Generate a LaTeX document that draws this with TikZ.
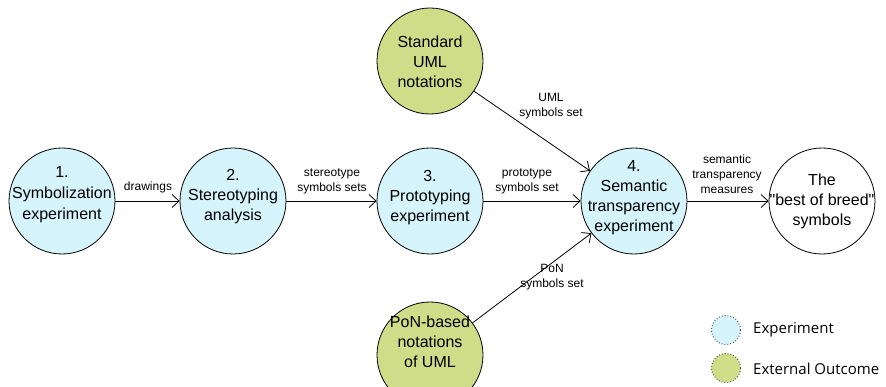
\documentclass[tikz,border=0pt]{standalone}
\usepackage{fontspec}
\setmainfont{Liberation Sans}
\newfontfamily\legendfont{Open Sans}
\usetikzlibrary{arrows.meta}
\definecolor{expblue}{RGB}{214,244,252}
\definecolor{outgreen}{RGB}{207,221,137}
\begin{document}
\begin{tikzpicture}[x=1pt,y=-1pt,
  stage/.style={circle,draw=black,line width=0.8pt,minimum size=106pt,inner sep=0pt},
  expnode/.style={stage,fill=expblue},
  outnode/.style={stage,fill=outgreen},
  stagetext/.style={align=center,inner sep=0pt,font=\fontsize{16}{20}\selectfont},
  flow/.style={draw=black,line width=0.8pt,-{Straight Barb[length=7pt,width=13pt,line width=0.8pt]}},
  flowlabel/.style={align=center,inner sep=0pt,font=\fontsize{12}{15}\selectfont},
  legdot/.style={circle,draw=black!70,dotted,line width=0.9pt,minimum size=29pt,inner sep=0pt},
  legtext/.style={anchor=west,inner sep=0pt,font=\legendfont\fontsize{15}{18}\selectfont}]
\clip (0,0) rectangle (886,387);
\fill[white] (0,0) rectangle (886,387);

% main chain of stages
\node[expnode] (c1) at (62,201) {};
\node[expnode] (c2) at (233,201) {};
\node[expnode] (c3) at (430,201) {};
\node[expnode] (c4) at (634,201) {};
\node[stage]   (c5) at (822,201) {};

% external inputs
\node[outnode] (uml) at (430,61) {};
\node[outnode] (pon) at (430,355) {};

% stage captions
\node[stagetext,font=\fontsize{16}{21}\selectfont] (t1) at (62,195) {1.\\Symbolization\\experiment};
\node[stagetext] (t2) at (233,197) {2.\\Stereotyping\\analysis};
\node[stagetext] (t3) at (430,198) {3.\\Prototyping\\experiment};
\node[stagetext] (t4) at (634,198) {4.\\Semantic\\transparency\\experiment};
\node[stagetext] (t5) at (822,201) {The\\\textquotedbl best of breed\textquotedbl\\symbols};
\node[stagetext] (tu) at (430,62) {Standard\\UML\\notations};
\node[stagetext] (tp) at (430,342) {PoN-based\\notations\\of UML};

% connectors
\draw[flow] (c1) -- (c2);
\draw[flow] (c2) -- (c3);
\draw[flow] (c3) -- (c4);
\draw[flow] (c4) -- (c5);
\draw[flow] (uml) -- (c4);
\draw[flow] (pon) -- (c4);

% connector labels
\node[flowlabel] (l12) at (148,187) {drawings};
\node[flowlabel] (l23) at (332,181) {stereotype\\symbols sets};
\node[flowlabel] (l34) at (527,181) {prototype\\symbols set};
\node[flowlabel] (l45) at (727,174) {semantic\\transparency\\measures};
\node[flowlabel] (lum) at (551,106) {UML\\symbols set};
\node[flowlabel] (lpn) at (552,277) {PoN\\symbols set};

% legend
\node[legdot,fill=expblue]   (kexp) at (726,330) {};
\node[legdot,fill=outgreen]  (kout) at (726,368) {};
\node[legtext] (texp) at (753,330) {Experiment};
\node[legtext] (tout) at (753,369) {External Outcome};
\end{tikzpicture}
\end{document}
